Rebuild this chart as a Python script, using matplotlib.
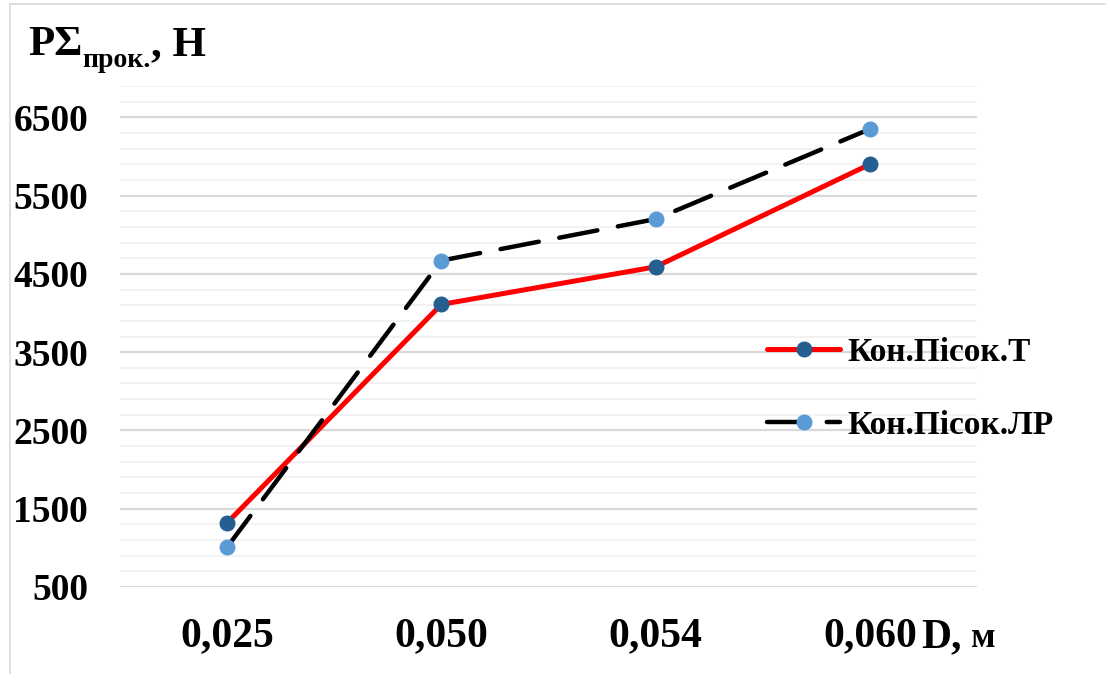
import matplotlib.pyplot as plt
from matplotlib.lines import Line2D
import numpy as np

plt.rcParams["font.family"] = ["Liberation Serif", "DejaVu Serif"]
plt.rcParams["font.weight"] = "bold"
plt.rcParams["lines.scale_dashes"] = False

diameters = ["0,025", "0,050", "0,054", "0,060"]
force_t = [1320, 4110, 4590, 5900]
force_lr = [1010, 4670, 5200, 6350]
series_names = ["Кон.Пісок.Т", "Кон.Пісок.ЛР"]

W, H = 1106, 674
fig = plt.figure(figsize=(W / 100, H / 100), dpi=100)
ax = fig.add_axes([120 / W, 1 - 587 / H, 857 / W, (587 - 86) / H])

x = np.arange(len(diameters))
ax.plot(x, force_t, color="#FF0000", lw=3.6, solid_capstyle="round",
        marker="o", ms=10.5, mfc="#255E91", mec="#255E91", label=series_names[0], zorder=3)
ax.plot(x, force_lr, color="black", lw=3.2, dashes=(28, 15), dash_capstyle="round",
        marker="o", ms=10.5, mfc="#5B9BD5", mec="#5B9BD5", label=series_names[1], zorder=4)

ax.set_xlim(-0.5, len(diameters) - 0.5)
ax.set_ylim(500, 6900)
ax.set_xticks(x)
ax.set_xticklabels(diameters, fontsize=30, fontweight="bold")
ax.set_yticks(np.arange(500, 6600, 1000))
ax.set_yticks(np.arange(500, 7000, 200), minor=True)
ax.tick_params(axis="y", which="both", length=0, labelsize=27, pad=23)
ax.tick_params(axis="x", length=0, pad=22)
for lab in ax.get_yticklabels():
    lab.set_fontweight("bold")
ax.grid(axis="y", which="minor", color="#F2F2F2", lw=1.4)
ax.grid(axis="y", which="major", color="#D9D9D9", lw=1.6)
ax.set_axisbelow(True)
for s in ax.spines.values():
    s.set_visible(False)

leg = ax.legend(loc="upper left", bbox_to_anchor=(647 / 857, (587 - 337) / 501),
                frameon=False, fontsize=24, handlelength=2.2, handletextpad=0.2,
                labelspacing=1.25, borderpad=0, borderaxespad=0)
for t in leg.get_texts():
    t.set_fontweight("bold")

# axis titles
fig.canvas.draw()
r = fig.canvas.get_renderer()
d = fig.text(921 / W, 1 - 647 / H, "D,", fontsize=30, fontweight="bold", va="baseline")
bb = d.get_window_extent(r)
fig.text(bb.x1 / W, 1 - 647 / H, " м", fontsize=26, fontweight="bold", va="baseline")

t1 = fig.text(28 / W, 1 - 55 / H, "PΣ", fontsize=31, fontweight="bold", va="baseline")
bb = t1.get_window_extent(r)
t2 = fig.text(bb.x1 / W, 1 - 67 / H, "прок.", fontsize=20, fontweight="bold", va="baseline")
bb = t2.get_window_extent(r)
fig.text(bb.x1 / W, 1 - 55 / H, ", Н", fontsize=31, fontweight="bold", va="baseline")

# chart border (top and left edges)
fig.add_artist(Line2D([10 / W, 10 / W], [0, 1 - 4 / H], transform=fig.transFigure, color="#D9D9D9", lw=1.2))
fig.add_artist(Line2D([10 / W, 1], [1 - 4 / H, 1 - 4 / H], transform=fig.transFigure, color="#D9D9D9", lw=1.2))

fig.savefig("out.png", dpi=100)
